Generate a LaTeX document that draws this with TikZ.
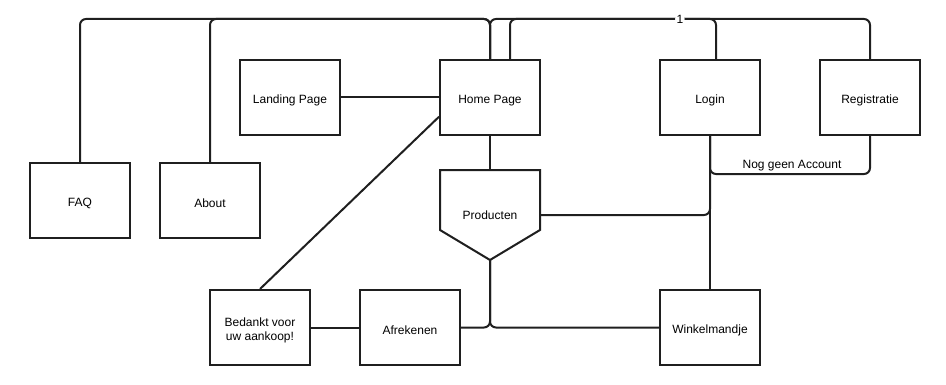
\documentclass[tikz,border=0pt]{standalone}
\usepackage{fontspec}
\setmainfont{Liberation Sans}
\usetikzlibrary{calc}
\definecolor{ink}{HTML}{1F1F1F}
\begin{document}
\begin{tikzpicture}[x=0.75pt,y=-0.75pt,
  txt/.style={font=\fontsize{9}{10.5}\selectfont,align=center,inner sep=1pt},
  box/.style={draw=ink,line width=1.5pt,minimum width=75pt,minimum height=56.25pt,
    inner sep=0pt,label={[txt,yshift=-2pt]center:#1}},
  link/.style={draw=ink,line width=1.5pt,rounded corners=4.5pt},
  lbl/.style={txt}]
\useasboundingbox (0,0) rectangle (946,385);

% pages
\node[box=FAQ]          (faq)   at (80,200.5)  {};
\node[box=About]        (about) at (210,200.5) {};
\node[box=Landing Page] (land)  at (290,97.5)  {};
\node[box=Home Page]    (home)  at (490,97.5)  {};
\node[box=Login]        (login) at (710,97.5)  {};
\node[box=Registratie]  (reg)   at (870,97.5)  {};
\node[box={Bedankt voor\\uw aankoop!}] (thx) at (260,327.5) {};
\node[box=Afrekenen]    (afr)   at (410,327.5) {};
\node[box=Winkelmandje] (cart)  at (710,327.5) {};

% product overview (pentagon pointing down)
\coordinate (prodtop) at (490,170);
\coordinate (prodtip) at (490,260);
\draw[draw=ink,line width=1.5pt,line join=miter] (440,170) -- (540,170) -- (540,230) -- (prodtip) -- (440,230) -- cycle;
\node[txt,minimum width=75pt,inner sep=0pt] (prod) at (490,215) {Producten};

% routing levels
\coordinate (top) at (0,19);
\coordinate (acct) at (0,174);
\coordinate (homein) at ($(home.west)!0.5!(home.south west)$);
\coordinate (loginin) at ([xshift=4.5pt]login.north);
\coordinate (homeback) at ([xshift=15pt]home.north);

% links along the top
\draw[link] (faq.north) -- (faq.north |- top) -- (home.north |- top) -- (home.north);
\draw[link] (about.north) -- (about.north |- top) -- (home.north |- top) -- (home.north);
\draw[link] (reg.north) -- (reg.north |- top) -- (homeback |- top) -- (homeback);
\draw[link] (home.north) -- (home.north |- top) -- (loginin |- top)
  node[pos=0.84,lbl,fill=white] (one) {1} -- (loginin);

% other links
\draw[link] (land.east) -- (home.west);
\draw[link] (home.south) -- (prodtop);
\draw[link] (homein) -- (thx.north);
\draw[link] (prod.east) -- (login.south |- prod.east) -- (login.south);
\draw[link] (login.south) -- (cart.north);
\draw[link] (login.south) -- (login.south |- acct) -- (reg.south |- acct) -- (reg.south);
\node[lbl] (acctlbl) at (792,165.5) {Nog geen Account};
\draw[link] (thx.east) -- (afr.west);
\draw[link] (prodtip) -- (prodtip |- afr.east) -- (afr.east);
\draw[link] (prodtip) -- (prodtip |- cart.west) -- (cart.west);
\end{tikzpicture}
\end{document}
